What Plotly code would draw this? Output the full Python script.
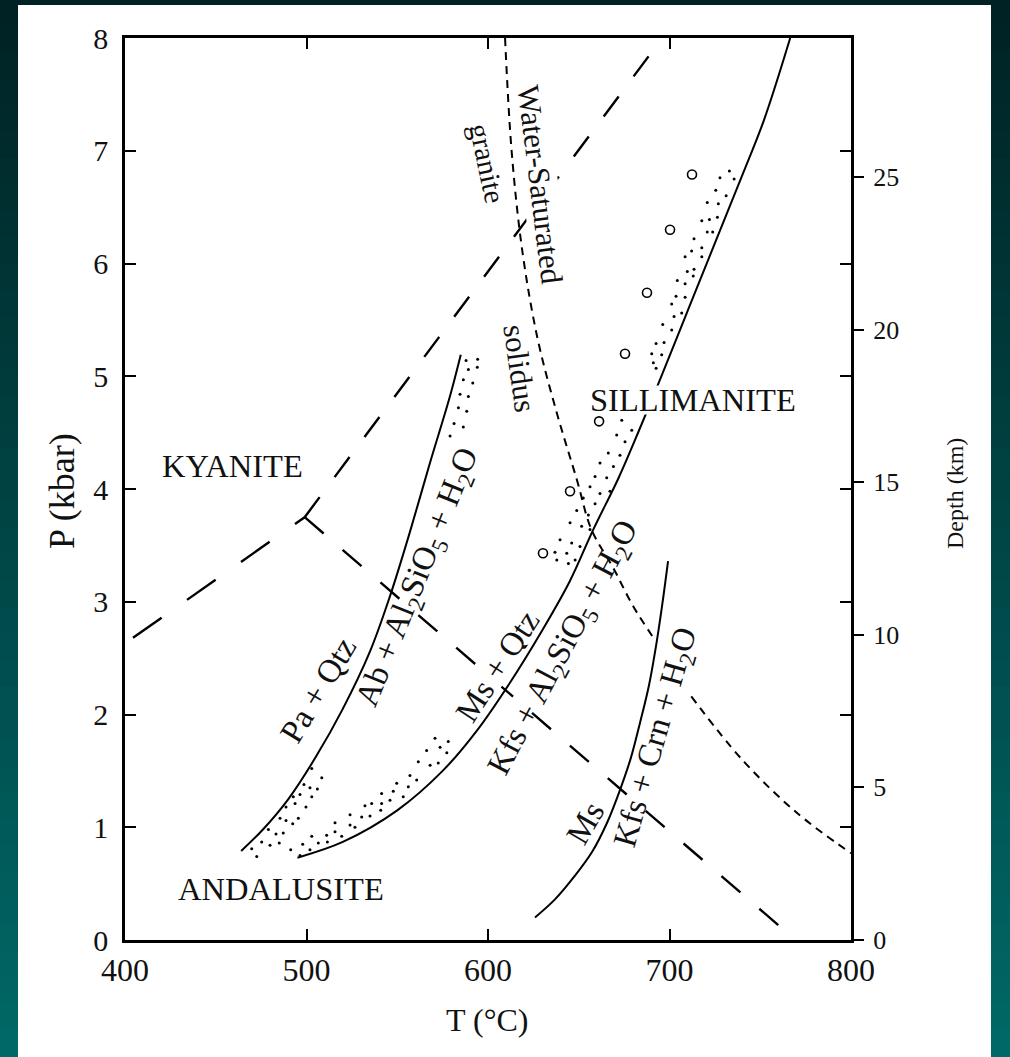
import plotly.graph_objects as go

# ---------------- data (T in °C, P in kbar) ----------------
T_ticks = [400, 500, 600, 700, 800]
P_ticks = [0, 1, 2, 3, 4, 5, 6, 7, 8]
depth_ticks = [0, 5, 10, 15, 20, 25]
KM_PER_KBAR = 3.694

# Al2SiO5 triple point and polymorph boundaries
ky_and_T = [404.4, 499.0]
ky_and_P = [2.68, 3.75]
ky_sil_T = [499.0, 696.0]
ky_sil_P = [3.75, 8.0]
and_sil_T = [499.0, 769.5]
and_sil_P = [3.75, 0.0]

# Pa + Qtz = Ab + Al2SiO5 + H2O
pa_T = [464, 476, 490, 505, 520, 535, 546, 557, 568, 579, 585]
pa_P = [0.79, 0.98, 1.25, 1.62, 2.05, 2.56, 3.05, 3.62, 4.23, 4.82, 5.19]

# Ms + Qtz = Kfs + Al2SiO5 + H2O
ms_T = [495, 520, 550, 575, 594, 612, 630, 645, 658, 672, 684, 695, 710, 725, 740, 752, 766.5]
ms_P = [0.73, 0.87, 1.15, 1.50, 1.86, 2.28, 2.75, 3.18, 3.64, 4.10, 4.55, 4.98, 5.58, 6.18, 6.78, 7.27, 8.0]

# Ms = Kfs + Crn + H2O
crn_T = [625.9, 636.9, 647.9, 657.3, 665.6, 672.7, 678.8, 683.8, 688.7, 693.1, 696.4, 699.2]
crn_P = [0.20, 0.36, 0.57, 0.78, 1.04, 1.33, 1.62, 1.93, 2.26, 2.66, 3.02, 3.36]

# Water-saturated granite solidus (interrupted by a label)
sol_T = [609.4, 613, 619, 627.5, 638, 649, 657, 669, 680, 692, None, 712, 740, 770, 800]
sol_P = [8.0, 7.0, 6.1, 5.32, 4.67, 4.08, 3.64, 3.30, 2.96, 2.66, None, 2.16, 1.60, 1.13, 0.77]

# stippled (experimental) bands
dots_T = [
    502.9, 508.4, 498.6, 501.9, 506.0, 492.7, 496.4, 502.9, 488.7, 493.7, 499.7, 485.4,
    488.7, 495.5, 492.4, 479.0, 483.2, 487.2, 475.3, 479.9, 485.0, 469.8, 472.6, 491.3,
    587.9, 594.3, 589.2, 594.1, 586.4, 591.6, 584.6, 589.2, 583.7, 588.3, 581.3, 586.4, 579.1,
    570.8, 573.6, 578.1, 566.2, 568.1, 572.6, 577.3, 561.6, 557.0, 560.7, 549.7, 556.1,
    553.3, 541.4, 547.8, 546.0, 532.2, 535.9, 541.4, 540.9, 524.0, 530.4, 535.0, 515.7,
    524.0, 526.7, 511.1, 515.7, 519.4, 502.9, 506.5, 497.9, 501.9, 496.4, 511.5,
    673.7, 679.2, 670.9, 675.5, 666.3, 672.7, 661.7, 669.1, 659.0, 665.4, 656.2, 661.7,
    667.2, 652.5, 659.0, 648.9, 655.3, 645.2, 651.6, 656.2, 639.7, 646.1, 650.7, 636.9,
    643.4, 637.9, 644.3, 648.0,
    733.0, 727.8, 735.6, 725.5, 731.2, 720.8, 726.9, 717.8, 722.0, 726.4, 720.8, 723.8,
    713.5, 717.8, 712.2, 717.8, 708.6, 709.8, 713.5, 713.1, 704.3, 708.6, 703.6, 708.6,
    701.2, 706.7, 702.5, 696.3, 701.2, 692.6, 697.0, 690.2, 695.7, 691.1, 692.6,
]
dots_P = [
    1.52, 1.44, 1.38, 1.35, 1.34, 1.27, 1.29, 1.27, 1.18, 1.21, 1.18, 1.08,
    1.06, 1.08, 1.03, 0.98, 0.94, 0.95, 0.87, 0.84, 0.86, 0.81, 0.74, 0.80,
    5.14, 5.15, 5.06, 5.08, 4.97, 4.94, 4.84, 4.82, 4.72, 4.69, 4.58, 4.55, 4.47,
    1.79, 1.71, 1.76, 1.68, 1.55, 1.57, 1.66, 1.58, 1.46, 1.42, 1.39, 1.36,
    1.27, 1.30, 1.32, 1.24, 1.19, 1.21, 1.21, 1.15, 1.11, 1.09, 1.10, 1.04,
    1.02, 1.00, 0.93, 0.96, 0.92, 0.92, 0.86, 0.85, 0.80, 0.75, 0.87,
    4.61, 4.52, 4.48, 4.42, 4.32, 4.30, 4.23, 4.20, 4.11, 4.10, 4.02, 3.96,
    3.98, 3.92, 3.87, 3.81, 3.77, 3.70, 3.67, 3.64, 3.55, 3.52, 3.49, 3.44,
    3.43, 3.37, 3.34, 3.37,
    6.82, 6.76, 6.75, 6.65, 6.60, 6.54, 6.53, 6.38, 6.39, 6.41, 6.28, 6.28,
    6.22, 6.14, 6.11, 6.06, 6.06, 5.93, 5.95, 5.89, 5.85, 5.82, 5.71, 5.70,
    5.64, 5.56, 5.53, 5.46, 5.41, 5.29, 5.30, 5.20, 5.19, 5.12, 5.07,
]

# open circles
circ_T = [712.4, 700.3, 687.6, 675.5, 661.2, 645.2, 630.3]
circ_P = [6.79, 6.30, 5.74, 5.20, 4.60, 3.98, 3.43]

# ---------------- figure ----------------
FONT = "Liberation Serif, Times New Roman, serif"
W, H = 1010, 1057
ML, MR, MT, MB = 125, 159, 38, 117
PW, PH = W - ML - MR, H - MT - MB


def px2paper_x(px):
    return (px - ML) / PW


def px2paper_y(py):
    return (H - MB - py) / PH


fig = go.Figure()

fig.add_trace(go.Scatter(x=ky_and_T, y=ky_and_P, mode="lines",
                         line=dict(color="black", width=2.4, dash="35px,31px"), hoverinfo="skip"))
fig.add_trace(go.Scatter(x=ky_sil_T, y=ky_sil_P, mode="lines",
                         line=dict(color="black", width=2.4, dash="25px,25px"), hoverinfo="skip"))
fig.add_trace(go.Scatter(x=and_sil_T, y=and_sil_P, mode="lines",
                         line=dict(color="black", width=2.4, dash="25px,25px"), hoverinfo="skip"))
for tx, ty in [(pa_T, pa_P), (ms_T, ms_P), (crn_T, crn_P)]:
    fig.add_trace(go.Scatter(x=tx, y=ty, mode="lines", line=dict(color="black", width=2, shape="spline"),
                             hoverinfo="skip"))
fig.add_trace(go.Scatter(x=sol_T, y=sol_P, mode="lines", connectgaps=False,
                         line=dict(color="black", width=2, dash="8px,6px", shape="spline"), hoverinfo="skip"))
fig.add_trace(go.Scatter(x=dots_T, y=dots_P, mode="markers",
                         marker=dict(color="black", size=3.0), hoverinfo="skip"))
fig.add_trace(go.Scatter(x=circ_T, y=circ_P, mode="markers",
                         marker=dict(symbol="circle-open", color="black", size=9, line=dict(width=1.6)),
                         hoverinfo="skip"))
# invisible trace to carry the depth axis
fig.add_trace(go.Scatter(x=[T_ticks[0]], y=[0], yaxis="y2", mode="markers",
                         marker=dict(opacity=0), hoverinfo="skip", showlegend=False))

# ---------------- background (teal gradient + white panel) ----------------
shapes = []
NB = 40
top = (0x00, 0x22, 0x24)
bot = (0x00, 0x68, 0x66)
for i in range(NB):
    f = i / (NB - 1)
    c = tuple(int(round(top[k] + (bot[k] - top[k]) * f)) for k in range(3))
    y0 = px2paper_y(H * i / NB - 1)
    y1 = px2paper_y(H * (i + 1) / NB + 1)
    shapes.append(dict(type="rect", xref="paper", yref="paper", layer="below",
                       x0=px2paper_x(-2), x1=px2paper_x(W + 2), y0=y1, y1=y0,
                       fillcolor="rgb(%d,%d,%d)" % c, line=dict(width=0)))
shapes.append(dict(type="rect", xref="paper", yref="paper", layer="below",
                   x0=px2paper_x(18), x1=px2paper_x(991), y0=px2paper_y(H + 5), y1=px2paper_y(5),
                   fillcolor="white", line=dict(width=0)))


def label(text, T, P, size=30, angle=0, bg=None, height=None):
    d = dict(text=text, x=T, y=P, xref="x", yref="y", showarrow=False, textangle=angle,
             font=dict(family=FONT, size=size, color="#111"), xanchor="center", yanchor="middle",
             borderpad=0)
    if bg:
        d["bgcolor"] = bg
    if height:
        d["height"] = height
    return d


def title(text, px, py, size, angle=0):
    return dict(text=text, x=px2paper_x(px), y=px2paper_y(py), xref="paper", yref="paper",
                xanchor="center", yanchor="middle", showarrow=False, textangle=angle,
                font=dict(family=FONT, size=size, color="#111"))


ann = [
    label("KYANITE", 459.0, 4.20, 32.5),
    label("SILLIMANITE", 713.0, 4.79, 32.5, bg="white", height=28),
    label("ANDALUSITE", 486.0, 0.45, 32.5),
    label("Water-Saturated", 628.7, 6.70, 31, 83, bg="white"),
    label("granite", 599.5, 6.89, 29, 78),
    label("solidus", 617.6, 5.07, 31, 82),
    label("Pa + Qtz", 506.3, 2.22, 33, -59),
    label("Ab + Al<sub>2</sub>SiO<sub>5</sub> + H<sub>2</sub>O", 561.5, 3.21, 33, -68),
    label("Ms + Qtz", 605.3, 2.43, 33, -57, bg="white", height=28),
    label("Kfs + Al<sub>2</sub>SiO<sub>5</sub> + H<sub>2</sub>O", 642.4, 2.59, 33, -62),
    label("Ms", 653.5, 1.04, 33, -60),
    label("Kfs + Crn + H<sub>2</sub>O", 693.0, 1.80, 33, -74),
    # axis titles
    title("P (kbar)", 62, 491, 36, -90),
    title("T (°C)", 487, 1020, 32),
    title("Depth (km)", 955, 493, 24, -90),
]

axis_common = dict(showgrid=False, zeroline=False, showline=True, linecolor="black", linewidth=2.5,
                   ticks="inside", ticklen=11, tickwidth=2, tickcolor="black", mirror="ticks")

fig.update_layout(
    width=W, height=H,
    margin=dict(l=ML, r=MR, t=MT, b=MB),
    paper_bgcolor="#004848",
    plot_bgcolor="white",
    showlegend=False,
    shapes=shapes,
    annotations=ann,
    xaxis=dict(range=[400, 800], tickvals=T_ticks, ticktext=[str(v) for v in T_ticks],
               tickfont=dict(family=FONT, size=32, color="#111"), ticklabelstandoff=0, **axis_common),
    yaxis=dict(range=[0, 8], tickvals=P_ticks, ticktext=[str(v) for v in P_ticks],
               tickfont=dict(family=FONT, size=30, color="#111"), ticklabelstandoff=8, **axis_common),
    yaxis2=dict(range=[0, 8 * KM_PER_KBAR], overlaying="y", side="right", anchor="x",
                tickvals=depth_ticks, ticktext=[str(v) for v in depth_ticks],
                tickfont=dict(family=FONT, size=26, color="#111"),
                showgrid=False, zeroline=False, showline=False,
                ticks="outside", ticklen=12, tickwidth=2, tickcolor="black", ticklabelstandoff=4),
)

fig.write_html("out.html", config={"displayModeBar": False},
               post_script="document.body.style.margin='0';document.body.style.overflow='hidden';")
